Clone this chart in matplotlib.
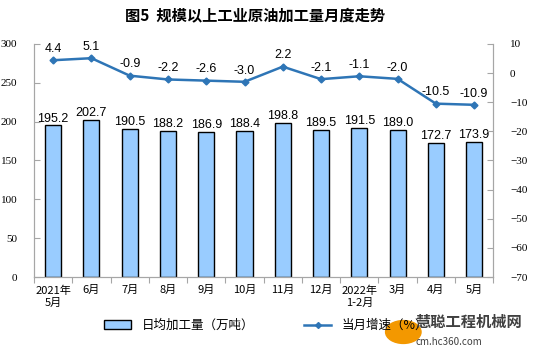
import matplotlib.pyplot as plt
from matplotlib.patches import Patch
from matplotlib.lines import Line2D

plt.rcParams['font.family'] = ['Noto Sans CJK SC', 'DejaVu Sans']

months = ['2021年\n5月', '6月', '7月', '8月', '9月', '10月', '11月', '12月',
          '2022年\n1-2月', '3月', '4月', '5月']
output = [195.2, 202.7, 190.5, 188.2, 186.9, 188.4, 198.8, 189.5, 191.5, 189.0, 172.7, 173.9]
growth = [4.4, 5.1, -0.9, -2.2, -2.6, -3.0, 2.2, -2.1, -1.1, -2.0, -10.5, -10.9]

bar_color = '#99ccff'
line_color = '#2e75b6'
spine_color = '#a6a6a6'

fig = plt.figure(figsize=(5.54, 3.57), dpi=100)
ax = fig.add_axes([0.0614, 0.224, 0.829, 0.653])
ax2 = ax.twinx()

x = list(range(len(months)))
ax.bar(x, output, width=0.42, color=bar_color, edgecolor='black', linewidth=1.0, zorder=2)
for xi, v in zip(x, output):
    ax.text(xi, v + 1, f'{v:.1f}', ha='center', va='bottom', fontsize=9,
            family=['Liberation Sans'])

ax2.plot(x, growth, color=line_color, lw=1.8, marker='D', ms=3.5, zorder=3)
for xi, v in zip(x, growth):
    ax2.text(xi, v + 1.8, f'{v:.1f}', ha='center', va='bottom', fontsize=9,
             family=['Liberation Sans'])

ax.set_xlim(-0.5, len(months) - 0.5)
ax.set_ylim(0, 300)
ax.set_yticks(range(0, 301, 50))
ax2.set_ylim(-70, 10)
ax2.set_yticks(range(-70, 11, 10))

# category ticks between groups
ax.set_xticks([i + 0.5 for i in range(-1, len(months))], minor=False)
ax.set_xticklabels([])
ax.set_xticks(x, minor=True)
ax.set_xticklabels(months, minor=True, fontsize=8, linespacing=1.3)
ax.tick_params(axis='x', which='major', direction='out', length=4, color=spine_color)
ax.tick_params(axis='x', which='minor', length=0, pad=6)

ax.tick_params(axis='y', direction='in', length=4, color=spine_color, labelsize=8, pad=12)
ax2.tick_params(axis='y', direction='in', length=4, color=spine_color, labelsize=8, pad=12)
for lab in ax.get_yticklabels() + ax2.get_yticklabels():
    lab.set_family(['Liberation Serif'])

for a in (ax, ax2):
    a.spines['top'].set_visible(False)
    for s in ('left', 'right', 'bottom'):
        a.spines[s].set_color(spine_color)

fig.text(0.46, 0.955, '图5  规模以上工业原油加工量月度走势', ha='center', va='center',
         fontsize=11, fontweight='bold')

handles = [Patch(facecolor=bar_color, edgecolor='black', linewidth=1.0),
           Line2D([0], [0], color=line_color, lw=1.8, marker='D', ms=3)]
fig.legend(handles, ['日均加工量（万吨）', '当月增速（%）'], loc='center',
           bbox_to_anchor=(0.48, 0.088), ncol=2, frameon=False, fontsize=9,
           handlelength=2.2, columnspacing=4)

# watermark
fig.text(0.75, 0.098, '慧聪工程机械网', ha='left', va='center', fontsize=11,
         fontweight='bold', color='#404040', zorder=6)
fig.text(0.75, 0.042, 'cm.hc360.com', ha='left', va='center', fontsize=7,
         color='#404040', zorder=6)
fig.patches.append(plt.Circle((0.728, 0.07), 0.032, transform=fig.transFigure,
                              color='#f39800', zorder=5))

fig.savefig('out.png', dpi=100)
